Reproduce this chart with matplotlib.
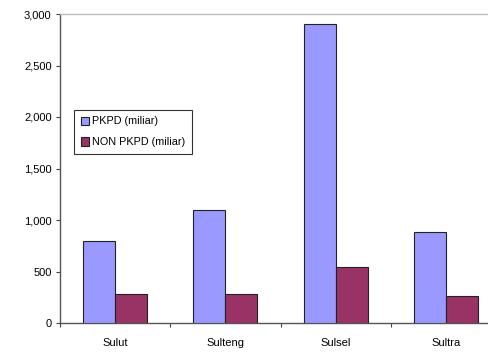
import numpy as np
import matplotlib.pyplot as plt
from matplotlib.ticker import FuncFormatter

plt.rcParams["font.family"] = ["Liberation Sans", "DejaVu Sans"]

provinces = ["Sulut", "Sulteng", "Sulsel", "Sultra"]
pkpd = [800, 1100, 2900, 880]
non_pkpd = [285, 285, 545, 260]

fig = plt.figure(figsize=(4.88, 3.54), dpi=100)
ax = fig.add_axes([60 / 488, 1 - 323 / 354, 441 / 488, 309 / 354])

x = np.arange(len(provinces))
w = 0.29
ax.bar(x - w / 2, pkpd, width=w, color="#9999FF", edgecolor="#222222",
       linewidth=0.8, label="PKPD (miliar)", zorder=3)
ax.bar(x + w / 2, non_pkpd, width=w, color="#993366", edgecolor="#222222",
       linewidth=0.8, label="NON PKPD (miliar)", zorder=3)

ax.set_xlim(-0.5, len(provinces) - 0.5)
ax.set_ylim(0, 3000)
ax.set_yticks(np.arange(0, 3001, 500))
ax.yaxis.set_major_formatter(FuncFormatter(lambda v, _: f"{int(v):,}"))

# category labels sit between the separator ticks
ax.set_xticks(np.arange(len(provinces) + 1) - 0.5)
ax.set_xticklabels([])
ax.set_xticks(x, minor=True)
ax.set_xticklabels(provinces, minor=True)
ax.tick_params(axis="x", which="minor", length=0, pad=11, labelsize=8)
ax.tick_params(axis="x", which="major", length=3, width=0.8, color="#444444")
ax.tick_params(axis="y", length=3, width=0.8, color="#444444", labelsize=8, pad=3)

for side in ["left", "bottom"]:
    ax.spines[side].set_color("#555555")
    ax.spines[side].set_linewidth(1.0)
ax.spines["top"].set_color("#bbbbbb")
ax.spines["top"].set_linewidth(1.0)
ax.spines["right"].set_visible(False)

leg = ax.legend(loc="upper left", bbox_to_anchor=(14 / 441, 1 - 96 / 309),
                fontsize=7.8, frameon=True, fancybox=False, edgecolor="black",
                handlelength=0.8, handleheight=0.8, handletextpad=0.3,
                borderpad=0.6, labelspacing=1.0, borderaxespad=0)
leg.get_frame().set_linewidth(0.8)

fig.savefig("out.png", dpi=100)
